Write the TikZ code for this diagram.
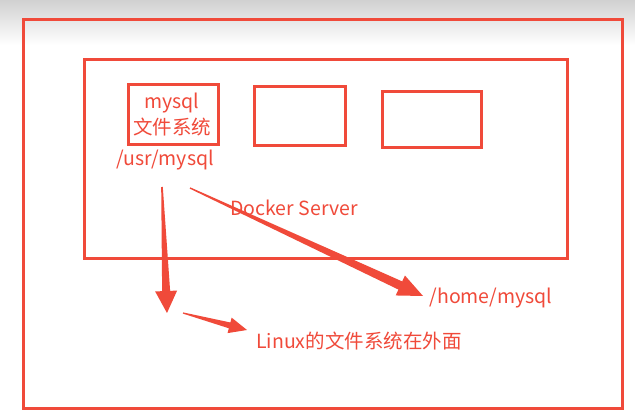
\documentclass[tikz,border=0pt]{standalone}
\usepackage{fontspec}
\setmainfont{Noto Sans CJK SC}
\usetikzlibrary{calc}
\definecolor{rd}{HTML}{F04A3A}
\newcommand\tarrow[6]{%
  \coordinate (hb) at ($(#2)!#3!(#1)$);
  \fill[rd] ($(#1)!#5!90:(#2)$) -- ($(hb)!#6!90:(#2)$) -- ($(hb)!#4!90:(#2)$) -- (#2)
    -- ($(hb)!#4!-90:(#2)$) -- ($(hb)!#6!-90:(#2)$) -- ($(#1)!#5!-90:(#2)$) -- cycle;}
\begin{document}
\begin{tikzpicture}[x=1pt,y=-1pt,
  box/.style={draw=rd, line width=3pt, inner sep=0pt},
  lbl/.style={text=rd, font=\fontsize{19.5}{21}\selectfont, inner sep=0pt}]
\useasboundingbox (0,0) rectangle (635,411);
\shade[top color=black!18, bottom color=white] (0,0) rectangle (635,45);
\fill[white] (0,45) rectangle (635,411);
\node[box, minimum width=599pt, minimum height=389pt, anchor=north west] (outer) at (22,18) {};
\node[box, minimum width=483pt, minimum height=199pt, anchor=north west] (docker) at (83,58) {};
\node[box, minimum width=90pt, minimum height=60pt, anchor=north west] (b1) at (127,83) {};
\node[box, minimum width=91pt, minimum height=59pt, anchor=north west] (b2) at (253,85) {};
\node[box, minimum width=99pt, minimum height=56pt, anchor=north west] (b3) at (381,90) {};
\node[lbl] (mysql) at (172,103) {mysql};
\node[lbl] (wj) at (172,127) {文件系统};
\node[lbl] (usr) at (165,160) {/usr/mysql};
\node[lbl] (ds) at (294,208) {Docker Server};
\node[lbl] (home) at (491,298) {/home/mysql};
\node[lbl] (linux) at (359,341) {Linux的文件系统在外面};
\coordinate (vs) at (162,187);
\coordinate (vt) at (167,313);
\coordinate (dgs) at (190,188);
\coordinate (dgt) at (423,296);
\coordinate (ss) at (183,313);
\coordinate (st) at (247,330);
\tarrow{vs}{vt}{22pt}{11pt}{0.8pt}{4pt}
\tarrow{dgs}{dgt}{25pt}{11pt}{0.7pt}{4.5pt}
\tarrow{ss}{st}{18pt}{8pt}{0.6pt}{3pt}
\end{tikzpicture}
\end{document}
